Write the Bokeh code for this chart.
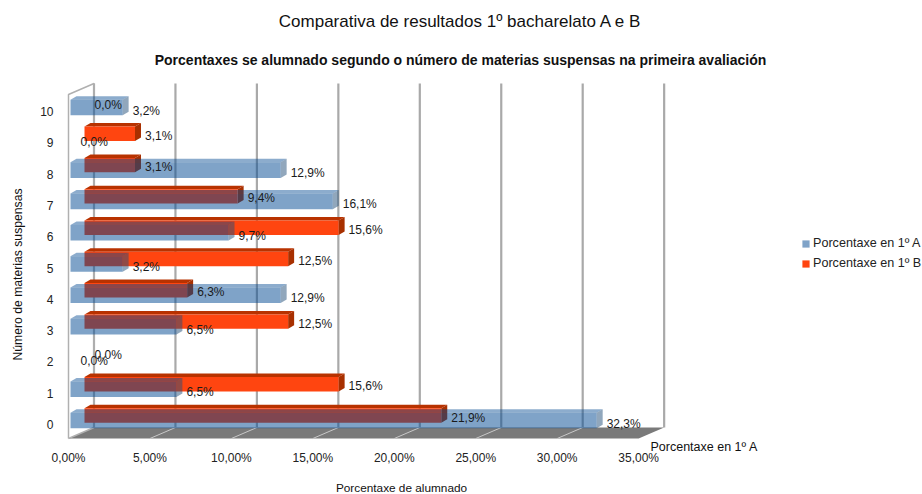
from math import pi
from bokeh.plotting import figure
from bokeh.models import ColumnDataSource, FixedTicker, Label, Legend, LegendItem
from bokeh.embed import file_html
from bokeh.resources import INLINE

categories = [0, 1, 2, 3, 4, 5, 6, 7, 8, 9, 10]
porcentaxe_a = [32.3, 6.5, 0.0, 6.5, 12.9, 3.2, 9.7, 16.1, 12.9, 0.0, 3.2]
porcentaxe_b = [21.9, 15.6, 0.0, 12.5, 6.3, 12.5, 15.6, 9.4, 3.1, 3.1, 0.0]
x_ticks = [0, 5, 10, 15, 20, 25, 30, 35]
x_tick_labels = ["0,00%", "5,00%", "10,00%", "15,00%", "20,00%", "25,00%", "30,00%", "35,00%"]
series_a = "Porcentaxe en 1º A"
series_b = "Porcentaxe en 1º B"
title_text = "Comparativa de resultados 1º bacharelato A e B"
subtitle_text = "Porcentaxes se alumnado segundo o número de materias suspensas na primeira avaliación"
x_title = "Porcentaxe de alumnado"
y_title = "Número de materias suspensas"

W, H = 922, 494
PX_X, PX_Y = 16.29, 31.3          # pixels per data unit
FONT = "Liberation Sans"
dx = lambda px: px / PX_X
dy = lambda px: px / PX_Y

# wall and floor geometry
depth_x, depth_y = dx(25.5), dy(11)
front = dy(-14)
back = front + depth_y
top = dy(341)
xmax = x_ticks[-1]
GRID = "#a9a9a9"

p = figure(width=W, height=H, output_backend="svg", toolbar_location=None,
           x_range=(dx(-68), dx(W - 68)), y_range=(dy(-(H - 424)), dy(424)),
           min_border=0, outline_line_color=None, background_fill_color="white")
p.grid.visible = False
for ax in (p.xaxis[0], p.yaxis[0]):
    ax.axis_line_color = None
    ax.major_tick_line_color = None
    ax.minor_tick_line_color = None
    ax.major_label_text_font = FONT
    ax.major_label_text_font_size = "12px"
    ax.major_label_text_color = "#222222"
p.xaxis[0].ticker = FixedTicker(ticks=x_ticks)
p.xaxis[0].major_label_overrides = dict(zip(x_ticks, x_tick_labels))
p.xaxis[0].major_label_standoff = 6
p.xaxis[0].fixed_location = front
p.yaxis[0].ticker = FixedTicker(ticks=categories)
p.yaxis[0].major_label_standoff = 9
p.yaxis[0].fixed_location = 0

p.patch([0, depth_x, xmax + depth_x, xmax], [front, back, back, front], color="#7a7a7a", line_width=0)
p.segment([t + depth_x for t in x_ticks], [back] * len(x_ticks),
          [t + depth_x for t in x_ticks], [top] * len(x_ticks), line_color=GRID, line_width=2.2)
p.segment(x_ticks[1:-1], [front] * 6, [t + depth_x for t in x_ticks[1:-1]], [back] * 6,
          line_color="#c8c8c8", line_width=1)
p.line([0, 0, depth_x, depth_x], [front, top - depth_y, top, back], line_color="#b0b0b0", line_width=1.5)
p.line([0, depth_x], [front, back], line_color="#b0b0b0", line_width=1.5)


def bars(values, x0_px, cy_px, half_px, front_kw, top_kw, side_kw):
    fx0, fx1, fy0, fy1, xs_top, ys_top, xs_side, ys_side = [], [], [], [], [], [], [], []
    for c, v in zip(categories, values):
        if v == 0:
            continue
        x0 = dx(x0_px)
        x1 = x0 + v
        yc = c + dy(cy_px)
        y0, y1 = yc - dy(half_px), yc + dy(half_px)
        ox, oy = dx(6), dy(3.5)
        fx0.append(x0); fx1.append(x1); fy0.append(y0); fy1.append(y1)
        xs_top.append([x0, x0 + ox, x1 + ox, x1]); ys_top.append([y1, y1 + oy, y1 + oy, y1])
        xs_side.append([x1, x1 + ox, x1 + ox, x1]); ys_side.append([y0, y0 + oy, y1 + oy, y1])
    p.patches(xs_top, ys_top, line_width=0, **top_kw)
    p.patches(xs_side, ys_side, line_width=0, **side_kw)
    return p.quad(left=fx0, right=fx1, bottom=fy0, top=fy1, line_width=0, **front_kw)


r_b = bars(porcentaxe_b, 16, 9, 7.2,
           dict(fill_color="#ff4510"), dict(fill_color="#b83200"), dict(fill_color="#a83000"))
r_a = bars(porcentaxe_a, 2, 4, 7.8,
           dict(fill_color="#004791", fill_alpha=0.5),
           dict(fill_color="#004791", fill_alpha=0.45),
           dict(fill_color="#24507a", fill_alpha=0.5))


def value_labels(values, x0_px, cy_px):
    src = ColumnDataSource(dict(
        x=[dx(x0_px + 10) + v for v in values],
        y=[c + dy(cy_px) for c in categories],
        t=[f"{v:.1f}%".replace(".", ",") for v in values]))
    p.text("x", "y", text="t", source=src, text_font_size="12px", text_color="#1a1a1a",
           text_baseline="middle", text_align="left", text_font={"value": FONT})


value_labels(porcentaxe_a, 2, 1)
value_labels(porcentaxe_b, 16, 7)

legend = Legend(items=[LegendItem(label=series_a, renderers=[r_a]),
                       LegendItem(label=series_b, renderers=[r_b])],
                location=(801, H - 270), padding=0, margin=0, spacing=6,
                glyph_width=9, glyph_height=9, label_standoff=3,
                border_line_color=None, background_fill_alpha=0,
                label_text_font=FONT, label_text_font_size="12.6px",
                label_text_color="#222222", label_height=13)
p.add_layout(legend, "center")


def screen_label(text, px, py, size, style="normal", angle=0.0, align="center"):
    p.add_layout(Label(x=px, y=H - py, x_units="screen", y_units="screen", text=text,
                       text_font=FONT, text_font_size=size, text_font_style=style,
                       text_color="#111111", text_align=align, text_baseline="middle", angle=angle))


screen_label(title_text, 460, 21, "17px")
screen_label(subtitle_text, 460, 59, "14px", "bold")
screen_label(y_title, 17, 274, "12.2px", angle=pi / 2)
screen_label(x_title, 401, 487, "11.8px")
screen_label(series_a, 650, 446, "12.5px", align="left")

open("out.html", "w").write(file_html(p, INLINE))
